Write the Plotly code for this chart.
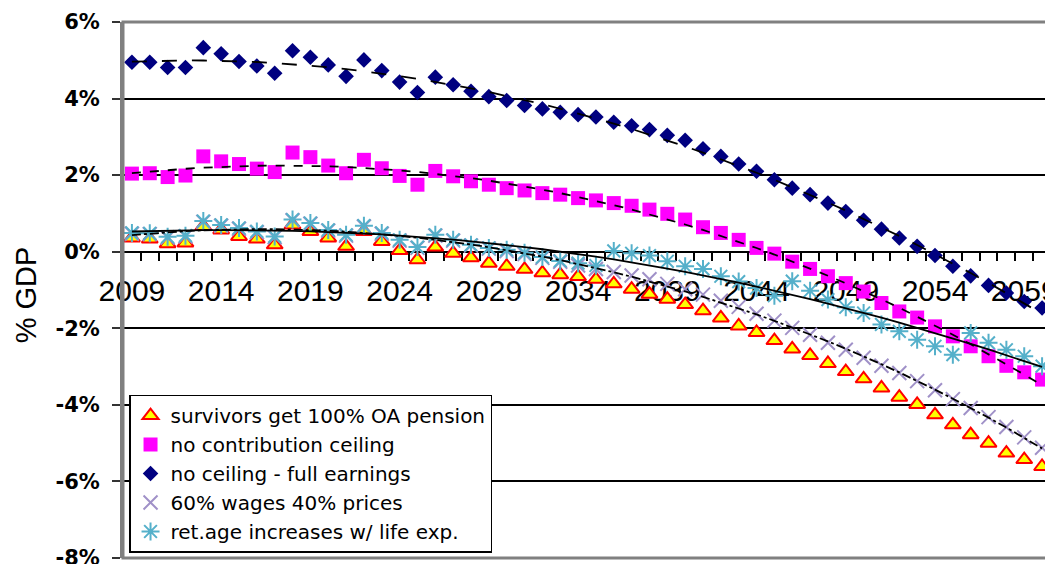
import numpy as np
import plotly.graph_objects as go

years = list(range(2009, 2061))
tick_years = [2009, 2014, 2019, 2024, 2029, 2034, 2039, 2044, 2049, 2054, 2059]
y_ticks = [-8, -6, -4, -2, 0, 2, 4, 6]
y_ticktext = ["-8%", "-6%", "-4%", "-2%", "0%", "2%", "4%", "6%"]

survivors = [0.36, 0.33, 0.21, 0.23, 0.66, 0.57, 0.40, 0.33, 0.18, 0.70,
             0.53, 0.36, 0.14, 0.53, 0.27, 0.03, -0.21, 0.12, -0.04, -0.16,
             -0.30, -0.38, -0.46, -0.55, -0.60, -0.65, -0.72, -0.84, -0.98, -1.11,
             -1.24, -1.38, -1.54, -1.73, -1.94, -2.11, -2.32, -2.54, -2.71, -2.92,
             -3.13, -3.32, -3.56, -3.80, -3.99, -4.26, -4.52, -4.78, -5.00, -5.26,
             -5.43, -5.61]
no_contrib = [2.04, 2.05, 1.95, 1.99, 2.49, 2.36, 2.29, 2.17, 2.08, 2.59,
              2.47, 2.25, 2.05, 2.40, 2.18, 1.98, 1.75, 2.11, 1.97, 1.84,
              1.75, 1.66, 1.60, 1.53, 1.49, 1.40, 1.34, 1.27, 1.20, 1.10,
              0.99, 0.84, 0.64, 0.49, 0.31, 0.10, -0.05, -0.26, -0.45, -0.64,
              -0.82, -1.04, -1.34, -1.56, -1.72, -1.95, -2.21, -2.47, -2.73, -2.98,
              -3.15, -3.34]
no_ceiling = [4.95, 4.95, 4.81, 4.81, 5.33, 5.17, 4.97, 4.85, 4.66, 5.25,
              5.08, 4.88, 4.58, 5.01, 4.73, 4.43, 4.16, 4.56, 4.36, 4.19,
              4.05, 3.95, 3.82, 3.73, 3.64, 3.58, 3.52, 3.38, 3.29, 3.19,
              3.04, 2.91, 2.69, 2.49, 2.29, 2.10, 1.88, 1.66, 1.49, 1.27,
              1.05, 0.82, 0.59, 0.36, 0.14, -0.10, -0.38, -0.63, -0.88, -1.08,
              -1.30, -1.47]
wages_prices = [0.47, 0.46, 0.37, 0.40, 0.78, 0.68, 0.60, 0.51, 0.38, 0.82,
                0.73, 0.55, 0.42, 0.66, 0.47, 0.29, 0.10, 0.42, 0.29, 0.16,
                0.08, 0.02, -0.06, -0.16, -0.26, -0.36, -0.45, -0.53, -0.62, -0.72,
                -0.84, -0.98, -1.12, -1.28, -1.44, -1.62, -1.80, -1.99, -2.17, -2.38,
                -2.56, -2.77, -2.98, -3.17, -3.38, -3.62, -3.85, -4.08, -4.32, -4.58,
                -4.85, -5.12]
ret_age = [0.49, 0.48, 0.39, 0.42, 0.80, 0.70, 0.62, 0.53, 0.40, 0.84,
           0.75, 0.57, 0.44, 0.68, 0.49, 0.31, 0.12, 0.44, 0.31, 0.18,
           0.10, 0.05, -0.03, -0.14, -0.24, -0.30, -0.36, 0.02, -0.04, -0.10,
           -0.25, -0.38, -0.45, -0.64, -0.78, -0.95, -1.15, -0.77, -1.02, -1.25,
           -1.45, -1.60, -1.90, -2.08, -2.30, -2.47, -2.69, -2.12, -2.38, -2.56,
           -2.73, -2.99]

series = [
    ("survivors get 100% OA pension", survivors,
     dict(symbol="triangle-up", size=14, color="#FFFF00", line=dict(color="#FF0000", width=2)), None),
    ("no contribution ceiling", no_contrib,
     dict(symbol="square", size=14, color="#FF00FF", line=dict(width=0)), "dash"),
    ("no ceiling - full earnings", no_ceiling,
     dict(symbol="diamond", size=12, color="#000080", line=dict(width=0)), "longdash"),
    ("60% wages 40% prices", wages_prices,
     dict(symbol="x-thin", size=14, color="#A091C8", line=dict(color="#A091C8", width=2)), "dashdot"),
    ("ret.age increases w/ life exp.", ret_age,
     dict(symbol="asterisk", size=15, color="#55B0CA", line=dict(color="#55B0CA", width=2)), "solid"),
]

fig = go.Figure()
for name, vals, marker, _ in series:
    fig.add_trace(go.Scatter(x=years, y=vals, mode="markers", name=name, marker=marker))

xs = np.array(years, dtype=float)
for name, vals, _, dash in series:
    if dash is None:
        continue
    coef = np.polyfit(xs - xs.mean(), np.array(vals), 4)
    trend = np.polyval(coef, xs - xs.mean())
    fig.add_trace(go.Scatter(x=years, y=trend, mode="lines", showlegend=False, hoverinfo="skip",
                             line=dict(color="black", width=1.8, dash=dash)))

boundaries = [y - 0.5 for y in years] + [years[-1] + 0.5]
y_lo, y_hi = y_ticks[0], y_ticks[-1]

# the page adds an 8px body margin, so the figure is drawn 8px smaller and shifted
fig.update_layout(
    width=1045, height=556,
    margin=dict(l=115, r=2, t=14, b=6, pad=0),
    paper_bgcolor="white", plot_bgcolor="white",
    showlegend=True,
    legend=dict(x=0.0065, y=0.305, xanchor="left", yanchor="top",
                bgcolor="white", bordercolor="black", borderwidth=1.5,
                font=dict(family="DejaVu Sans", size=20, color="black"),
                tracegroupgap=0),
    xaxis=dict(range=[boundaries[0], boundaries[-1]], tickmode="array",
               tickvals=tick_years, ticktext=[str(t) for t in tick_years],
               ticks="", showgrid=False, zeroline=False,
               showline=True, linecolor="black", linewidth=2,
               anchor="free", position=(0 - y_lo) / (y_hi - y_lo),
               layer="below traces",
               tickfont=dict(family="Liberation Sans", size=30, color="black"),
               ticklabelstandoff=12, ticklabeloverflow="allow",
               minor=dict(tickmode="array", tickvals=boundaries, ticks="outside",
                          ticklen=8, tickwidth=2, tickcolor="black", showgrid=False),
               automargin=False, fixedrange=True),
    yaxis=dict(range=[y_lo, y_hi], tickmode="array", tickvals=y_ticks, ticktext=y_ticktext,
               ticks="outside", ticklen=8, tickwidth=2, tickcolor="#333333",
               showgrid=True, gridcolor="black", gridwidth=2, zeroline=False,
               showline=True, linecolor="#808080", linewidth=3,
               tickfont=dict(family="DejaVu Sans", size=21, color="black", weight="bold"),
               ticklabelstandoff=8, ticklabeloverflow="allow",
               automargin=False, fixedrange=True),
    shapes=[dict(type="rect", xref="paper", yref="paper", x0=0, x1=1, y0=0, y1=1,
                 line=dict(color="#808080", width=3), layer="above")],
    annotations=[dict(text="% GDP", textangle=-90, xref="paper", yref="paper",
                      x=(18 - 115) / 928, y=0.49, xanchor="center", yanchor="middle",
                      showarrow=False,
                      font=dict(family="Liberation Sans", size=29, color="black"))],
)

fig.write_html("out.html")
